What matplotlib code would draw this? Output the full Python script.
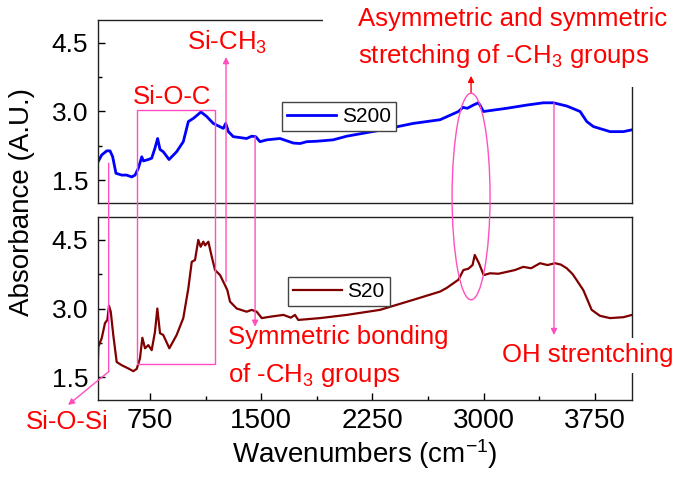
import numpy as np
import matplotlib
matplotlib.use("Agg")
import matplotlib.pyplot as plt
from matplotlib.patches import Rectangle, Ellipse, ConnectionPatch
from matplotlib.ticker import MultipleLocator

plt.rcParams['font.family'] = ['Liberation Sans', 'DejaVu Sans']
plt.rcParams['mathtext.fontset'] = 'custom'
plt.rcParams['mathtext.rm'] = 'Liberation Sans'
plt.rcParams['mathtext.it'] = 'Liberation Sans:italic'
plt.rcParams['mathtext.bf'] = 'Liberation Sans:bold'

# ── data ────────────────────────────────────────────
s200_x = [400, 425, 459, 481, 499, 521, 560, 593, 627, 650, 672, 695, 706, 739,
          762, 784, 802, 818, 840, 879, 930, 975, 1009, 1043, 1069, 1094, 1133,
          1177, 1245, 1261, 1279, 1312, 1402, 1436, 1463, 1492, 1537, 1627,
          1717, 1762, 1807, 1875, 1985, 2077, 2301, 2526, 2706, 2830, 2860,
          2890, 2930, 2964, 2975, 2998, 3043, 3155, 3290, 3402, 3470, 3560,
          3650, 3695, 3740, 3852, 3942, 4000]
s200_y = [1.90, 2.05, 2.14, 2.14, 2.01, 1.65, 1.61, 1.61, 1.57, 1.61, 1.76, 2.01,
          1.92, 1.95, 1.98, 2.20, 2.41, 2.17, 2.12, 1.95, 2.12, 2.34, 2.78, 2.85,
          2.92, 2.99, 2.89, 2.74, 2.63, 2.74, 2.56, 2.45, 2.41, 2.46, 2.45, 2.34,
          2.38, 2.41, 2.31, 2.30, 2.34, 2.35, 2.38, 2.46, 2.59, 2.74, 2.82, 3.00,
          3.09, 3.07, 3.14, 3.19, 3.14, 3.00, 3.02, 3.07, 3.14, 3.19, 3.19, 3.12,
          3.00, 2.78, 2.67, 2.56, 2.56, 2.60]

s20_x = [400, 402, 425, 447, 463, 474, 486, 503, 526, 560, 604, 638, 661, 683,
         699, 717, 739, 762, 784, 800, 818, 840, 881, 930, 975, 1009, 1032, 1054,
         1076, 1092, 1110, 1122, 1133, 1144, 1167, 1189, 1223, 1256, 1272, 1290,
         1335, 1402, 1436, 1470, 1504, 1560, 1650, 1700, 1728, 1750, 1897, 2077,
         2301, 2526, 2706, 2751, 2830, 2863, 2897, 2925, 2940, 2968, 3000, 3043,
         3100, 3155, 3210, 3267, 3320, 3380, 3430, 3481, 3520, 3560, 3600, 3627,
         3672, 3728, 3784, 3852, 3942, 4000]
s20_y = [1.91, 2.16, 2.35, 2.68, 2.75, 3.06, 2.93, 2.42, 1.83, 1.76, 1.69, 1.63,
         1.68, 1.91, 2.36, 2.13, 2.20, 2.09, 2.49, 3.00, 2.46, 2.42, 2.13, 2.42,
         2.79, 3.44, 4.02, 4.06, 4.50, 4.35, 4.46, 4.38, 4.42, 4.46, 4.13, 3.84,
         3.73, 3.51, 3.40, 3.15, 3.00, 2.93, 2.97, 2.93, 2.79, 2.82, 2.86, 2.80,
         2.86, 2.75, 2.79, 2.86, 2.97, 3.19, 3.37, 3.45, 3.63, 3.84, 3.87, 3.95,
         4.17, 3.99, 3.73, 3.77, 3.76, 3.80, 3.84, 3.91, 3.88, 3.99, 3.95, 3.99,
         3.96, 3.88, 3.75, 3.62, 3.40, 2.97, 2.84, 2.79, 2.81, 2.86]

x_ticks = [750, 1500, 2250, 3000, 3750]
y_ticks = [1.5, 3.0, 4.5]

pink = '#FF4FBF'
red = '#FF0000'
note_fs = 18.5

fig = plt.figure(figsize=(6.74, 4.78), dpi=100)
ax1 = fig.add_axes([0.1454, 0.5753, 0.7923, 0.3829])
ax2 = fig.add_axes([0.1454, 0.1632, 0.7923, 0.3828])

ax1.plot(s200_x, s200_y, color='#0000FF', lw=2.0, label='S200')
ax2.plot(s20_x, s20_y, color='#800000', lw=1.6, label='S20')

for ax in (ax1, ax2):
    ax.set_xlim(400, 4000)
    ax.set_ylim(1.0, 5.0)
    ax.set_yticks(y_ticks)
    ax.yaxis.set_minor_locator(MultipleLocator(0.75))
    ax.tick_params(axis='y', which='both', direction='in', labelsize=19, pad=7)
    ax.tick_params(axis='y', which='major', length=5, width=1)
    ax.tick_params(axis='y', which='minor', length=3, width=1)
    for sp in ax.spines.values():
        sp.set_linewidth(1.0)
        sp.set_color('#222222')

ax1.set_xticks([])
ax2.set_xticks(x_ticks)
ax2.xaxis.set_minor_locator(MultipleLocator(375))
ax2.tick_params(axis='x', which='both', direction='in', labelsize=20, pad=6)
ax2.tick_params(axis='x', which='major', length=5, width=1)
ax2.tick_params(axis='x', which='minor', length=3, width=1)
ax2.set_xlabel('Wavenumbers (cm$^{-1}$)', fontsize=20, labelpad=2)
fig.text(0.033, 0.577, 'Absorbance (A.U.)', rotation=90, fontsize=20,
         ha='center', va='center')

leg_kw = dict(loc='upper left', fontsize=15, frameon=True, fancybox=False,
              framealpha=1, edgecolor='#444444', handlelength=2.35,
              handletextpad=0.25, borderpad=0.25, borderaxespad=0)
l1 = ax1.legend(bbox_to_anchor=(0.345, 0.552), **leg_kw)
l2 = ax2.legend(bbox_to_anchor=(0.356, 0.674), **leg_kw)
for lg in (l1, l2):
    lg.get_frame().set_linewidth(1.0)


def fig_xy(ax, x, y):
    return fig.transFigure.inverted().transform(ax.transData.transform((x, y)))


# white cover behind the top-right text
ax1.add_patch(Rectangle((0.421, 0.634), 0.7, 0.5, transform=ax1.transAxes,
                        facecolor='white', edgecolor='none', zorder=3,
                        clip_on=False))

# Si-O-C box spanning both panels
x0, y_top = fig_xy(ax1, 665, 3.03)
x1, y_bot = fig_xy(ax2, 1189, 1.78)
fig.add_artist(Rectangle((x0, y_bot), x1 - x0, y_top - y_bot,
                         transform=fig.transFigure, fill=False,
                         edgecolor=pink, lw=1.0, zorder=5))
ax1.text(899, 3.32, 'Si-O-C', color=red, fontsize=note_fs, ha='center',
         va='center')

# ellipse around the CH3 stretching peaks
ex0, ey_top = fig_xy(ax1, 2787, 3.40)
ex1, ey_bot = fig_xy(ax2, 3043, 3.19)
fig.add_artist(Ellipse(((ex0 + ex1) / 2, (ey_top + ey_bot) / 2), ex1 - ex0,
                       ey_top - ey_bot, transform=fig.transFigure, fill=False,
                       edgecolor=pink, lw=1.0, zorder=5))
ax1.annotate('', xy=(2915, 3.78), xytext=(2915, 3.40),
             arrowprops=dict(arrowstyle='-|>', color=red, lw=1.0,
                             mutation_scale=9, shrinkA=0, shrinkB=0),
             zorder=6, annotation_clip=False)
ax1.text(2150, 4.60, 'Asymmetric and symmetric\nstretching of -CH$_3$ groups',
         color=red, fontsize=note_fs, ha='left', va='center', linespacing=1.5,
         zorder=6, clip_on=False)


def link(axA, ptA, axB, ptB, style='-|>'):
    con = ConnectionPatch(xyA=ptA, coordsA=axA.transData, xyB=ptB,
                          coordsB=axB.transData, arrowstyle=style,
                          color=pink, lw=1.0, mutation_scale=9,
                          shrinkA=0, shrinkB=0, zorder=6)
    fig.add_artist(con)


# Si-CH3
link(ax2, (1263, 3.59), ax1, (1263, 4.19))
ax1.text(1270, 4.52, 'Si-CH$_3$', color=red, fontsize=note_fs, ha='center',
         va='center')

# symmetric bonding of CH3
link(ax1, (1459, 2.45), ax2, (1459, 2.60))
ax2.text(1276, 1.94, 'Symmetric bonding\nof -CH$_3$ groups', color=red,
         fontsize=note_fs, ha='left', va='center', linespacing=1.6)

# OH stretching
link(ax1, (3474, 3.19), ax2, (3474, 2.42))
ax2.text(3122, 1.98, 'OH strentching', color=red, fontsize=note_fs, ha='left',
         va='center', zorder=6, clip_on=False,
         bbox=dict(facecolor='white', edgecolor='none', pad=4))

# Si-O-Si
link(ax1, (472, 1.87), ax2, (472, 1.62), style='-')
ax2.annotate('', xy=(198, 0.89), xytext=(472, 1.62),
             arrowprops=dict(arrowstyle='-|>', color=pink, lw=1.0,
                             mutation_scale=9, shrinkA=0, shrinkB=0),
             annotation_clip=False, zorder=6)
ax2.text(194, 0.52, 'Si-O-Si', color=red, fontsize=note_fs, ha='center',
         va='center', clip_on=False)

fig.savefig('out.png', dpi=100, facecolor='white')
